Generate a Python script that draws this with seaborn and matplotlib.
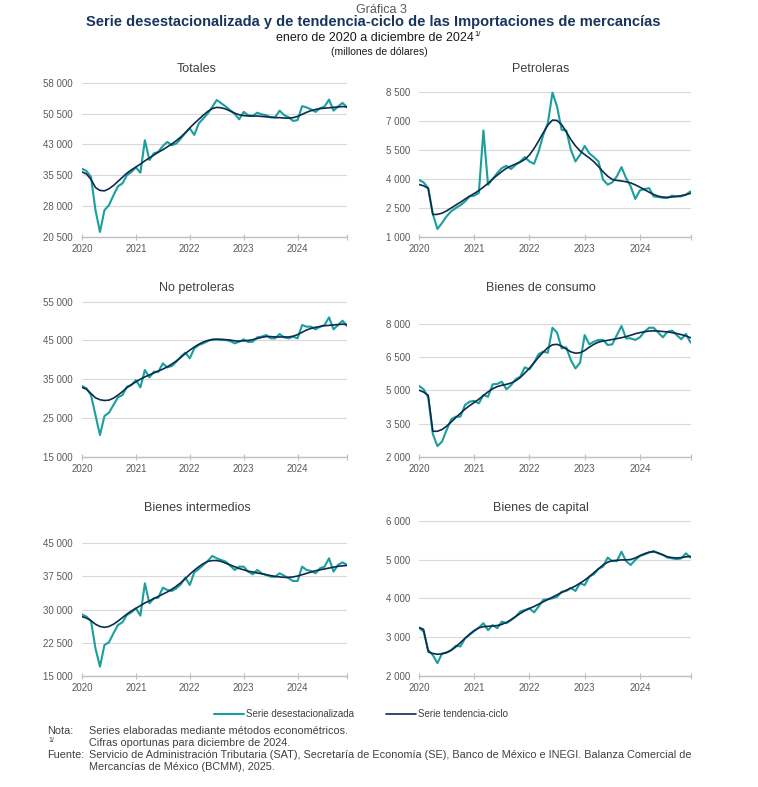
import numpy as np
import pandas as pd
import seaborn as sns
import matplotlib.pyplot as plt
from matplotlib.lines import Line2D

# Monthly data, Jan 2020 - Dec 2024 (millones de dólares)
years = ['2020', '2021', '2022', '2023', '2024']

totales_desest = [37100, 36500, 35100, 27000, 21700, 27000, 28200, 30600, 32800, 33500, 35500, 36300,
                  37400, 36100, 44000, 39200, 40800, 41200, 42600, 43600, 42800, 43200, 44400, 45800,
                  46900, 45300, 48100, 49300, 50500, 52100, 53800, 53000, 52200, 51300, 50400, 49100,
                  50900, 50100, 49900, 50700, 50300, 50100, 49600, 49600, 51200, 50100, 49600, 48700,
                  48900, 52300, 52000, 51500, 50900, 51800, 52200, 53900, 51200, 52200, 53100, 52000]
totales_tend = [36300, 35800, 34500, 32500, 31800, 31700, 32200, 33000, 34000, 35000, 36000, 36800,
                37500, 38200, 39000, 39700, 40400, 41100, 41700, 42400, 43100, 43900, 44800, 45800,
                47000, 48100, 49100, 50100, 51000, 51700, 52000, 51900, 51600, 51100, 50600, 50200,
                50000, 49900, 49900, 49900, 49800, 49700, 49600, 49500, 49500, 49400, 49400, 49500,
                49800, 50300, 50800, 51200, 51500, 51700, 51800, 51900, 52000, 52100, 52200, 52100]

petro_desest = [3950, 3830, 3530, 2200, 1410, 1720, 2070, 2330, 2500, 2640, 2840, 3100,
                3140, 3280, 6520, 3700, 4000, 4310, 4570, 4690, 4520, 4740, 4910, 5140,
                4910, 4790, 5430, 6290, 6900, 8480, 7760, 6550, 6520, 5520, 4910, 5260,
                5720, 5340, 5140, 4910, 3970, 3710, 3830, 4140, 4620, 4050, 3620, 2970,
                3410, 3480, 3530, 3100, 3070, 3030, 3020, 3140, 3100, 3100, 3190, 3360]
petro_tend = [3720, 3650, 3520, 2160, 2170, 2230, 2350, 2500, 2650, 2800, 2960, 3110,
              3250, 3400, 3580, 3780, 4000, 4200, 4390, 4560, 4680, 4780, 4880, 5020,
              5250, 5580, 5980, 6400, 6800, 7060, 7040, 6820, 6450, 6050, 5720, 5460,
              5270, 5100, 4900, 4650, 4380, 4150, 3980, 3930, 3900, 3860, 3800, 3700,
              3580, 3450, 3320, 3200, 3110, 3060, 3050, 3070, 3100, 3140, 3190, 3260]

nopetro_desest = [33240, 32630, 30910, 25750, 20590, 25490, 26350, 28330, 30310, 30910, 33060, 33490,
                  34780, 32890, 37370, 35470, 36940, 36940, 39090, 38050, 38400, 39520, 40810, 41840,
                  40380, 42960, 43820, 44250, 44850, 45280, 45280, 45110, 45110, 44850, 44250, 44680,
                  45280, 44590, 44680, 45800, 45970, 46400, 45540, 45540, 46660, 45800, 45540, 45970,
                  45540, 48980, 48550, 48550, 47860, 48550, 48980, 50960, 47860, 48980, 50100, 48720]
nopetro_tend = [32890, 32400, 31300, 30200, 29700, 29500, 29600, 30100, 30900, 31800, 32800, 33600,
                34300, 35000, 35600, 36100, 36600, 37100, 37600, 38200, 38900, 39700, 40600, 41600,
                42500, 43300, 44000, 44600, 45000, 45200, 45300, 45300, 45200, 45100, 44900, 44800,
                44900, 45000, 45200, 45500, 45800, 46000, 46000, 45900, 45900, 45900, 45900, 46100,
                46500, 47100, 47700, 48100, 48400, 48600, 48800, 48900, 49000, 49100, 49200, 49100]

consumo_desest = [5200, 5050, 4680, 3030, 2480, 2680, 3210, 3690, 3810, 3810, 4340, 4490,
                  4520, 4410, 4790, 4710, 5270, 5290, 5390, 5050, 5230, 5500, 5620, 6040,
                  5950, 6250, 6640, 6750, 6700, 7830, 7610, 6900, 6940, 6370, 5990, 6250,
                  7500, 7080, 7200, 7280, 7280, 7050, 7080, 7500, 7910, 7350, 7350, 7280,
                  7400, 7650, 7830, 7830, 7610, 7400, 7650, 7700, 7500, 7310, 7550, 7160]
consumo_tend = [5010, 4920, 4780, 3150, 3150, 3230, 3380, 3570, 3770, 3960, 4150, 4310,
                4450, 4600, 4770, 4930, 5070, 5170, 5230, 5270, 5330, 5430, 5580, 5780,
                6000, 6250, 6500, 6730, 6930, 7060, 7080, 7000, 6870, 6740, 6680, 6700,
                6800, 6950, 7080, 7180, 7230, 7260, 7300, 7340, 7380, 7430, 7490, 7560,
                7610, 7650, 7680, 7690, 7680, 7660, 7640, 7610, 7570, 7520, 7460, 7380]

interm_desest = [28940, 28420, 27440, 21250, 17110, 22010, 22610, 24650, 26530, 27140, 28790, 29400,
                 30300, 28640, 35950, 31430, 32560, 32710, 34970, 34450, 34220, 34820, 35730, 37240,
                 35580, 38440, 39200, 40100, 41010, 42140, 41610, 41230, 40850, 39950, 38970, 39720,
                 39720, 38590, 37990, 38970, 38220, 37840, 37460, 37460, 38220, 37690, 37090, 36480,
                 36480, 39720, 38970, 38740, 38220, 39350, 39720, 41610, 38590, 40100, 40700, 40100]
interm_tend = [28420, 28100, 27500, 26700, 26200, 26000, 26200, 26700, 27400, 28200, 29000, 29700,
               30300, 30900, 31500, 32000, 32500, 33000, 33500, 34000, 34600, 35300, 36100, 37000,
               38000, 38900, 39700, 40400, 40900, 41100, 41100, 40900, 40500, 40100, 39700, 39300,
               39000, 38700, 38500, 38300, 38100, 37900, 37700, 37500, 37400, 37300, 37300, 37400,
               37600, 37900, 38200, 38500, 38800, 39000, 39200, 39400, 39600, 39800, 39900, 40000]

capital_desest = [3245, 3140, 2670, 2540, 2330, 2580, 2610, 2670, 2780, 2760, 2970, 3060,
                  3160, 3245, 3360, 3180, 3310, 3230, 3400, 3360, 3440, 3530, 3660, 3700,
                  3740, 3640, 3790, 3960, 3980, 4000, 4040, 4170, 4190, 4270, 4190, 4390,
                  4340, 4560, 4620, 4760, 4820, 5050, 4960, 4960, 5200, 4960, 4860, 4990,
                  5090, 5130, 5180, 5220, 5160, 5120, 5050, 5030, 5010, 5030, 5160, 5050]
capital_tend = [3250, 3200, 2620, 2580, 2560, 2570, 2600, 2660, 2750, 2860, 2970, 3080,
                3170, 3240, 3270, 3280, 3290, 3300, 3330, 3380, 3450, 3530, 3610, 3680,
                3740, 3790, 3850, 3910, 3970, 4030, 4090, 4150, 4210, 4260, 4320, 4390,
                4470, 4560, 4660, 4760, 4860, 4930, 4970, 4980, 4990, 4990, 5000, 5040,
                5100, 5150, 5190, 5200, 5170, 5120, 5070, 5050, 5040, 5050, 5070, 5080]

panel_titles = ['Totales', 'Petroleras', 'No petroleras', 'Bienes de consumo',
                'Bienes intermedios', 'Bienes de capital']
panel_desest = [totales_desest, petro_desest, nopetro_desest, consumo_desest, interm_desest, capital_desest]
panel_tend = [totales_tend, petro_tend, nopetro_tend, consumo_tend, interm_tend, capital_tend]
panel_yticks = [[20500, 28000, 35500, 43000, 50500, 58000],
                [1000, 2500, 4000, 5500, 7000, 8500],
                [15000, 25000, 35000, 45000, 55000],
                [2000, 3500, 5000, 6500, 8000],
                [15000, 22500, 30000, 37500, 45000],
                [2000, 3000, 4000, 5000, 6000]]

TEAL = '#1a9e9e'
NAVY = '#0d2b4e'
GRAY = '#595959'

sns.set_theme(style='white')
plt.rcParams['font.family'] = ['Liberation Sans', 'DejaVu Sans']

W, H = 758, 787
fig = plt.figure(figsize=(W / 100, H / 100), dpi=100)

# axes boxes in pixels: (left, right) per column, (top, bottom, top gridline per column) per row
cols = [(82, 347), (419, 690.5)]
rows = [(78, 236.9, [82.7, 92.3]), (297, 456.7, [301.7, 324]), (517, 676, [543.3, 520.7])]
title_x = [0.434, 0.45]

meses = np.arange(60)

for i, name in enumerate(panel_titles):
    r, c = divmod(i, 2)
    x0, x1 = cols[c]
    top, bot, grids = rows[r]
    ax = fig.add_axes([x0 / W, 1 - bot / H, (x1 - x0) / W, (bot - top) / H])

    df = pd.DataFrame({'mes': meses, 'desest': panel_desest[i], 'tend': panel_tend[i]})
    sns.lineplot(data=df, x='mes', y='desest', color=TEAL, lw=1.5, ax=ax)
    sns.lineplot(data=df, x='mes', y='tend', color=NAVY, lw=1.2, ax=ax)

    yt = panel_yticks[i]
    ymin, ymax = yt[0], yt[-1]
    ytop = ymin + (ymax - ymin) * (bot - top) / (bot - grids[c])
    ax.set_ylim(ymin, ytop)
    ax.set_xlim(0, 59)
    ax.set_yticks(yt)
    ax.set_yticklabels([f'{v:,.0f}'.replace(',', ' ') for v in yt])
    ax.set_xticks([0, 12, 24, 36, 48, 59])
    ax.set_xticklabels(years + [''])
    ax.grid(axis='y', color='#d9d9d9', lw=0.8)
    ax.set_axisbelow(True)
    for s in ['top', 'right', 'left']:
        ax.spines[s].set_visible(False)
    ax.spines['bottom'].set_color('#bfbfbf')
    ax.spines['bottom'].set_linewidth(1.0)
    ax.tick_params(axis='x', direction='inout', length=5, width=0.8, color='#bfbfbf',
                   labelsize=7, labelcolor=GRAY, pad=2.5, bottom=True)
    ax.tick_params(axis='y', length=0, labelsize=7, labelcolor=GRAY, pad=6.5)
    ax.set_xlabel('')
    ax.set_ylabel('')
    ax.text(title_x[c], 1.0 + 3 / (bot - top), name, transform=ax.transAxes,
            ha='center', va='bottom', fontsize=9, color='#404040')

# header
fig.text(0.503, 1 - 10 / H, 'Gráfica 3', ha='center', va='center', fontsize=9, color=GRAY)
fig.text(0.492, 1 - 22 / H,
         'Serie desestacionalizada y de tendencia-ciclo de las Importaciones de mercancías',
         ha='center', va='center', fontsize=10.5, fontweight='bold', color='#17365d')
sub = fig.text(0.495, 1 - 38 / H, 'enero de 2020 a diciembre de 2024', ha='center', va='center',
               fontsize=9, color='#1a1a1a')
fig.text(0.5, 1 - 52 / H, '(millones de dólares)', ha='center', va='center', fontsize=7.5,
         color='#1a1a1a')
fig.canvas.draw()
bb = sub.get_window_extent()
fig.text(bb.x1 / W + 0.001, bb.y1 / H + 0.001, '1/', ha='left', va='top', fontsize=5.5, color='#1a1a1a')

# legend
handles = [Line2D([], [], color=TEAL, lw=1.5), Line2D([], [], color=NAVY, lw=1.2)]
fig.legend(handles, ['Serie desestacionalizada', 'Serie tendencia-ciclo'],
           loc='center', bbox_to_anchor=(361 / W, 1 - 714 / H), ncol=2, frameon=False,
           fontsize=7, handlelength=3.1, handletextpad=0.2, columnspacing=3.3,
           labelcolor='#404040')

# notes
ns = 7.8
nc = '#404040'
fig.text(47 / W, 1 - 731 / H, 'Nota:', fontsize=ns, color=nc, va='center')
fig.text(89 / W, 1 - 731 / H, 'Series elaboradas mediante métodos econométricos.',
         fontsize=ns, color=nc, va='center')
fig.text(48 / W, 1 - 741 / H, '1/', fontsize=5, color=nc, va='center')
fig.text(89 / W, 1 - 743 / H, 'Cifras oportunas para diciembre de 2024.', fontsize=ns, color=nc, va='center')
fig.text(47 / W, 1 - 755 / H, 'Fuente:', fontsize=ns, color=nc, va='center')
fig.text(89 / W, 1 - 755 / H,
         'Servicio de Administración Tributaria (SAT), Secretaría de Economía (SE), '
         'Banco de México e INEGI. Balanza Comercial de',
         fontsize=ns, color=nc, va='center')
fig.text(89 / W, 1 - 767 / H, 'Mercancías de México (BCMM), 2025.', fontsize=ns, color=nc, va='center')

fig.savefig('out.png', dpi=100)
